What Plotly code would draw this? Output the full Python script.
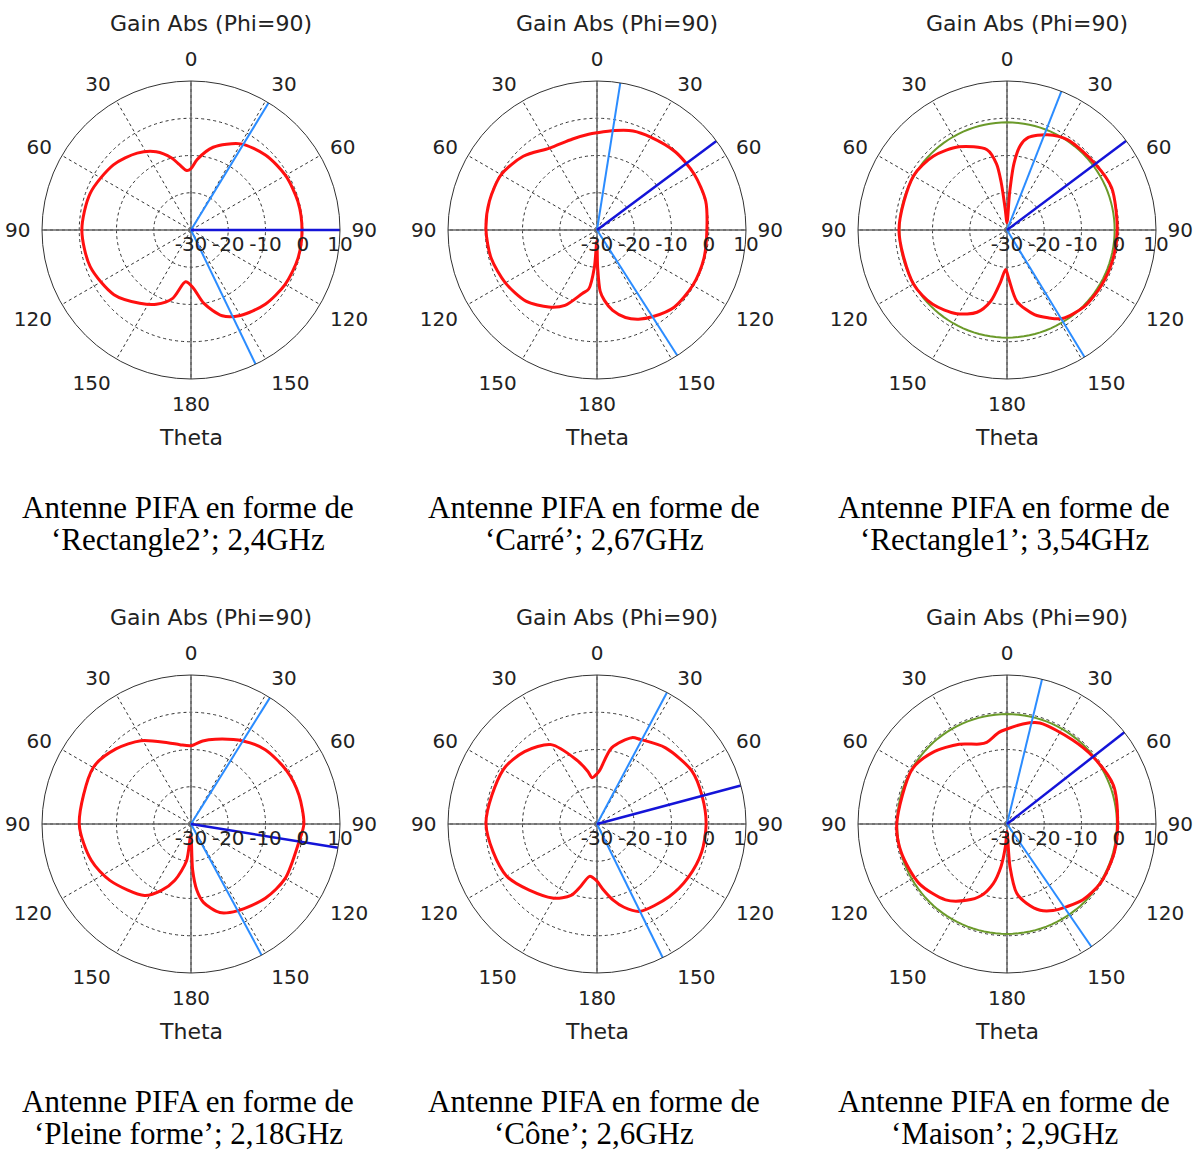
import plotly.graph_objects as go

# ---------------- data ----------------
R_MIN, R_MAX = -30, 10
R_TICKS = [-30, -20, -10, 0, 10]
ANG_TICKS = list(range(0, 360, 30))
ANG_LABELS = ["0", "30", "60", "90", "120", "150", "180", "150", "120", "90", "60", "30"]

THETA_1 = [0, 5, 15, 30, 45, 60, 75, 90, 105, 120, 135, 150, 160, 170, 178, 186, 195, 205, 215, 230, 250, 270, 290, 310, 325, 336, 345, 350, 356]
GAIN_1 = [-13.5, -11, -7, -3.3, -1.6, -0.7, -0.3, -0.2, -0.3, -0.8, -1.8, -3.5, -5.5, -10, -14.5, -16, -11, -8, -6, -3, -1.2, -0.7, -1.2, -2.8, -4.8, -7, -10, -12.2, -14]

THETA_2 = [0, 10, 20, 30, 45, 60, 75, 90, 105, 120, 135, 147, 155, 162, 169, 174, 177, 179, 181, 184, 188, 193, 203, 212, 225, 240, 255, 270, 285, 300, 315, 330, 345, 355]
GAIN_2 = [-3.9, -2.9, -1.7, -1.2, -0.3, 0.1, 0.2, -0.5, -0.3, -0.3, -0.7, -2.3, -3.6, -5.3, -8, -11, -13.5, -20, -27, -20, -14, -12.5, -8, -5.6, -3, -1.6, -0.6, -0.2, -0.1, -0.3, -2, -4.6, -4.7, -4.2]

THETA_3 = [0, 4, 6, 9, 13, 23, 34, 53, 68, 90, 105, 120, 135, 148, 155, 162, 172, 178, 182, 187, 193, 200, 211, 225, 240, 270, 300, 315, 330, 346, 351, 353, 355]
GAIN_3 = [-28, -20, -12, -7, -4.5, -2.2, -0.8, -0.4, 0.3, -0.4, -0.5, -0.6, -0.8, -2, -4, -6.1, -10.6, -17, -19.4, -16, -10.3, -6.5, -3.8, -1.8, -1, -1, -1, -2, -4.2, -7.8, -12, -17, -24]

THETA_4 = [0, 8, 16, 32, 45, 61, 75, 90, 99, 120, 135, 152, 162, 171, 175, 178, 181, 187, 196, 204, 213, 235, 250, 270, 300, 315, 329, 344, 352]
GAIN_4 = [-9, -7.5, -6.3, -3.7, -1.8, -0.6, 0, 0.3, -0.6, -0.8, -1.8, -3.6, -5, -8.7, -12.2, -17.7, -27, -20, -14.3, -10.5, -7.1, -3.5, -1.5, 0, 0.3, -1.5, -3.9, -7.3, -8.5]

THETA_5 = [0, 3, 11, 22, 27, 42, 61, 75, 90, 105, 120, 135, 154, 162, 168, 175, 181, 188, 195, 200, 211, 240, 270, 300, 315, 330, 342, 350, 354]
GAIN_5 = [-16.5, -15.5, -9.1, -5, -4.5, -2.5, -0.8, -0.8, -0.7, -0.9, -1.6, -2.5, -3.9, -6.5, -9.1, -12.5, -14.9, -15.8, -12.5, -9.6, -6.8, -2, -0.2, -0.9, -2.5, -5.4, -11.8, -15.6, -17.5]

THETA_6 = [0, 9, 18, 38, 52, 70, 90, 105, 122, 135, 144, 152, 159, 166, 172, 176, 180, 184, 188, 193, 200, 208, 219, 236, 255, 270, 300, 314, 329, 341, 346, 355]
GAIN_6 = [-4.5, -2.8, -1.5, -1.4, -0.7, 0.4, -0.3, -0.2, -0.3, -1.2, -2.6, -3.7, -5.2, -8, -11.2, -18.5, -28, -24, -18.5, -13.6, -9.5, -6.8, -3.8, -1.5, -0.6, -0.4, -0.6, -2.3, -5, -7.3, -7.4, -5.3]

THETAS = [THETA_1, THETA_2, THETA_3, THETA_4, THETA_5, THETA_6]
GAINS = [GAIN_1, GAIN_2, GAIN_3, GAIN_4, GAIN_5, GAIN_6]

MARKERS_LIGHT = [[31.4, 154.3], [9, 147.4], [21.4, 148.6], [32, 151.7], [28, 153.8], [13.6, 145.5]]
MARKER_DARK = [90, 53.3, 53.2, 99.2, 75, 52]
GREEN_LEVEL = [None, None, -1.1, None, None, -0.5]

TITLE = "Gain Abs (Phi=90)"
AXIS_NAME = "Theta"
CAPTION_LINE1 = "Antenne PIFA en forme de"
CAPTION_LINE2 = ["‘Rectangle2’; 2,4GHz", "‘Carré’; 2,67GHz", "‘Rectangle1’; 3,54GHz",
                 "‘Pleine forme’; 2,18GHz", "‘Cône’; 2,6GHz", "‘Maison’; 2,9GHz"]

# ---------------- layout geometry (reference pixel frame) ----------------
W, H = 1193, 1151
CX = [191, 597, 1007]
CY = [230, 824]
RAD = 149


def px(x):
    return x / W


def py(y):
    return 1 - y / H


RED = "#ff1010"
LIGHT_BLUE = "#2b8cff"
DARK_BLUE = "#1414d8"
GREEN = "#6b9a2a"
GRID = "#333333"
AXIS = "#666666"
SANS = "DejaVu Sans"
SERIF = "Liberation Serif"

fig = go.Figure()
layout = dict(width=W, height=H, margin=dict(l=0, r=0, t=0, b=0),
              paper_bgcolor="white", plot_bgcolor="white", showlegend=False,
              annotations=[])

for i in range(6):
    row, col = divmod(i, 3)
    cx, cy = CX[col], CY[row]
    pname = "polar" if i == 0 else f"polar{i+1}"
    sub = pname
    layout[pname] = dict(
        domain=dict(x=[px(cx - RAD), px(cx + RAD)],
                    y=[py(cy + RAD), py(cy - RAD)]),
        bgcolor="white",
        angularaxis=dict(rotation=90, direction="clockwise", tickmode="array",
                         tickvals=ANG_TICKS, ticktext=ANG_LABELS,
                         showline=True, linecolor="#333333", linewidth=1,
                         showgrid=True, gridcolor=GRID, griddash="dot", gridwidth=1.2,
                         ticks="outside", ticklen=7, tickcolor="rgba(0,0,0,0)",
                         tickfont=dict(family=SANS, size=20, color="#222222")),
        radialaxis=dict(range=[R_MIN, R_MAX], tickmode="array", tickvals=R_TICKS,
                        ticktext=[str(v) for v in R_TICKS], angle=0, side="clockwise",
                        tickangle=0, showline=False, ticks="",
                        showgrid=True, gridcolor=GRID, griddash="dot", gridwidth=1.2,
                        tickfont=dict(family=SANS, size=20, color="#222222")),
    )
    # solid principal axes
    for a in (0, 90):
        fig.add_trace(go.Scatterpolar(r=[R_MAX, R_MIN, R_MAX], theta=[a, a, a + 180],
                                      mode="lines", line=dict(color=AXIS, width=1.5),
                                      subplot=sub, hoverinfo="skip"))
    # green reference circle
    if GREEN_LEVEL[i] is not None:
        th = list(range(0, 361, 3))
        fig.add_trace(go.Scatterpolar(r=[GREEN_LEVEL[i]] * len(th), theta=th, mode="lines",
                                      line=dict(color=GREEN, width=2), subplot=sub))
    # gain pattern (start at 90 deg so the spline joint falls on a smooth part)
    t, g = THETAS[i], GAINS[i]
    k = t.index(90)
    tt = t[k:] + [x + 360 for x in t[:k]] + [t[k] + 360]
    gg = g[k:] + g[:k] + [g[k]]
    fig.add_trace(go.Scatterpolar(r=gg, theta=tt, mode="lines",
                                  line=dict(color=RED, width=3, shape="spline", smoothing=0.8),
                                  subplot=sub))
    # marker lines
    for a in MARKERS_LIGHT[i]:
        fig.add_trace(go.Scatterpolar(r=[R_MIN, R_MAX], theta=[a, a], mode="lines",
                                      line=dict(color=LIGHT_BLUE, width=2), subplot=sub))
    fig.add_trace(go.Scatterpolar(r=[R_MIN, R_MAX], theta=[MARKER_DARK[i]] * 2, mode="lines",
                                  line=dict(color=DARK_BLUE, width=2.5), subplot=sub))

    # texts
    common = dict(xref="paper", yref="paper", showarrow=False, xanchor="center", yanchor="middle")
    layout["annotations"] += [
        dict(text=TITLE, x=px(cx + 20), y=py(cy - RAD - 58),
             font=dict(family=SANS, size=22, color="#222222"), **common),
        dict(text=AXIS_NAME, x=px(cx), y=py(cy + RAD + 58),
             font=dict(family=SANS, size=22, color="#222222"), **common),
        dict(text=CAPTION_LINE1, x=px(cx - 3), y=py(cy + 277),
             font=dict(family=SERIF, size=31, color="#000000"), **common),
        dict(text=CAPTION_LINE2[i], x=px(cx - 3), y=py(cy + 309),
             font=dict(family=SERIF, size=31, color="#000000"), **common),
    ]

fig.update_layout(**layout)
fig.write_html("out.html", config={"displayModeBar": False},
               post_script="document.body.style.margin='0';document.body.style.overflow='hidden';")
